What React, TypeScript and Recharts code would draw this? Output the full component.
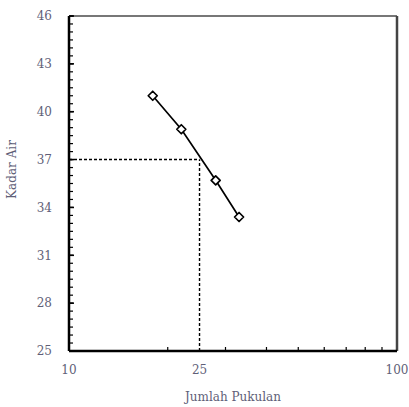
import { LineChart, Line, XAxis, YAxis, ReferenceLine } from "recharts";

const blows = [18, 22, 28, 33];
const waterContent = [41.0, 38.9, 35.7, 33.4];
const yTicks = [25, 28, 31, 34, 37, 40, 43, 46];
const yMinorTicks = Array.from({ length: 43 }, (_, i) => 25 + i * 0.5);
const xTicks = [10, 25, 100];
const xMinorTicks = [20, 30, 40, 50, 60, 70, 80, 90];
const llBlows = 25;
const llWater = 37;

const data = blows.map((b, i) => ({ blows: b, water: waterContent[i] }));

const textColor = "#5f5f78";
const font = "'DejaVu Serif', 'Liberation Serif', serif";

function Diamond(props: any) {
  const { cx, cy } = props;
  if (cx == null || cy == null) return null;
  const r = 4.5;
  return (
    <path
      d={`M${cx},${cy - r} L${cx + r},${cy} L${cx},${cy + r} L${cx - r},${cy} Z`}
      fill="#fff"
      stroke="#000"
      strokeWidth={1.7}
      strokeLinejoin="round"
    />
  );
}

const noLabel = () => "";

export default function App() {
  return (
    <div style={{ position: "absolute", left: 0, top: 0, background: "#fff" }}>
      <LineChart
        width={409}
        height={407}
        data={data}
        margin={{ top: 16, right: 12, bottom: 0, left: 0 }}
      >
        <XAxis
          dataKey="blows"
          type="number"
          scale="log"
          domain={[10, 100]}
          ticks={xTicks}
          allowDataOverflow
          height={56}
          tickSize={0}
          tickMargin={14}
          axisLine={{ stroke: "#000", strokeWidth: 2.5 }}
          tick={{ fill: textColor, fontSize: 12, fontFamily: font }}
          label={{
            value: "Jumlah Pukulan",
            position: "insideBottom",
            offset: 6,
            fill: textColor,
            fontSize: 12,
            fontFamily: font,
          }}
        />
        <XAxis
          xAxisId="minor"
          dataKey="blows"
          type="number"
          scale="log"
          domain={[10, 100]}
          ticks={xMinorTicks}
          allowDataOverflow
          mirror
          height={1}
          tickSize={4}
          tickFormatter={noLabel}
          axisLine={false}
          tickLine={{ stroke: "#000", strokeWidth: 1.2 }}
        />
        <YAxis
          type="number"
          domain={[25, 46]}
          ticks={yTicks}
          allowDataOverflow
          width={69}
          tickSize={0}
          tickMargin={17}
          axisLine={{ stroke: "#000", strokeWidth: 2.5 }}
          tick={{ fill: textColor, fontSize: 12, fontFamily: font }}
          label={{
            value: "Kadar Air",
            angle: -90,
            position: "insideLeft",
            offset: 12,
            dy: -14,
            fill: textColor,
            fontSize: 12,
            fontFamily: font,
            style: { textAnchor: "middle" },
          }}
        />
        <YAxis
          yAxisId="minor"
          type="number"
          domain={[25, 46]}
          ticks={yMinorTicks}
          allowDataOverflow
          mirror
          width={1}
          tickSize={3}
          tickFormatter={noLabel}
          axisLine={false}
          tickLine={{ stroke: "#000", strokeWidth: 1.2 }}
        />
        <YAxis
          yAxisId="major"
          type="number"
          domain={[25, 46]}
          ticks={yTicks}
          allowDataOverflow
          mirror
          width={1}
          tickSize={5}
          tickFormatter={noLabel}
          axisLine={false}
          tickLine={{ stroke: "#000", strokeWidth: 1.6 }}
        />
        <ReferenceLine y={46} stroke="#777" strokeWidth={2} />
        <ReferenceLine x={100} stroke="#444" strokeWidth={2.5} />
        <ReferenceLine
          segment={[
            { x: 10, y: llWater },
            { x: llBlows, y: llWater },
          ]}
          stroke="#000"
          strokeWidth={1.4}
          strokeDasharray="3 2"
        />
        <ReferenceLine
          segment={[
            { x: llBlows, y: 25 },
            { x: llBlows, y: llWater },
          ]}
          stroke="#000"
          strokeWidth={1.4}
          strokeDasharray="3 2"
        />
        <Line
          dataKey="water"
          stroke="#000"
          strokeWidth={1.7}
          dot={<Diamond />}
          activeDot={false}
          isAnimationActive={false}
        />
      </LineChart>
    </div>
  );
}
